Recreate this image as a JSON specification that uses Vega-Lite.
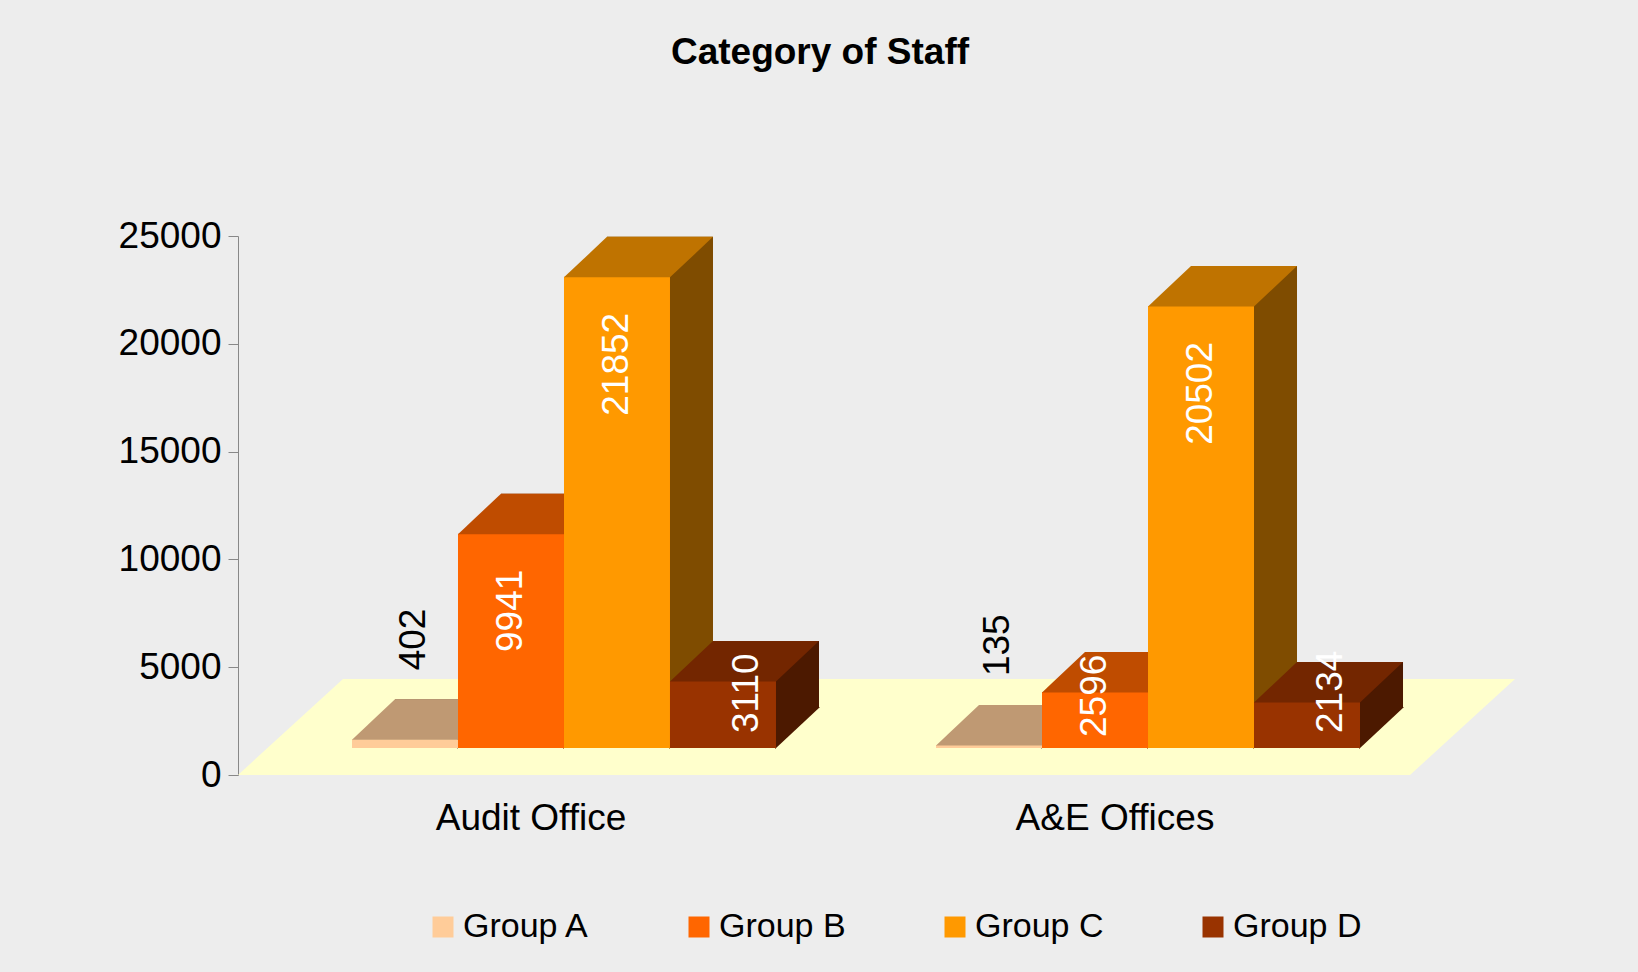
{
  "$schema": "https://vega.github.io/schema/vega-lite/v6.json",
  "autosize": {"type": "none"},
  "width": 1236,
  "height": 539,
  "padding": {"left": 238, "top": 236, "right": 164, "bottom": 197},
  "background": "#EDEDED",
  "config": {
    "font": "Liberation Sans",
    "view": {"stroke": null},
    "axisY": {
      "labelFontSize": 37,
      "labelColor": "black",
      "labelPadding": 7,
      "tickSize": 10,
      "tickColor": "#888888",
      "domainColor": "#888888",
      "grid": false
    },
    "axisX": {
      "labelFontSize": 37,
      "labelColor": "black",
      "labelAngle": 0,
      "labelPadding": 25,
      "labelOffset": -33,
      "labelLimit": 600,
      "ticks": false,
      "tickSize": 0,
      "domain": false,
      "grid": false
    }
  },
  "title": {
    "text": "Category of Staff",
    "fontSize": 37,
    "fontWeight": "bold",
    "color": "black",
    "anchor": "middle",
    "dx": -36,
    "offset": 145
  },
  "data": {
    "values": [
      {"Office": "Audit Office", "Group": "Group A", "Staff": 402},
      {"Office": "Audit Office", "Group": "Group B", "Staff": 9941},
      {"Office": "Audit Office", "Group": "Group C", "Staff": 21852},
      {"Office": "Audit Office", "Group": "Group D", "Staff": 3110},
      {"Office": "A&E Offices", "Group": "Group A", "Staff": 135},
      {"Office": "A&E Offices", "Group": "Group B", "Staff": 2596},
      {"Office": "A&E Offices", "Group": "Group C", "Staff": 20502},
      {"Office": "A&E Offices", "Group": "Group D", "Staff": 2134}
    ]
  },
  "resolve": {"scale": {"xOffset": "independent", "fill": "independent", "shape": "independent"}},
  "layer": [
    {
      "data": {"values": [{"floor": 0}]},
      "mark": {"type": "point", "shape": "M -618 0 L 554 0 L 659 -96 L -513 -96 Z", "size": 4, "filled": true, "fill": "#FFFFCC", "opacity": 1, "strokeWidth": 0},
      "encoding": {
        "y": {"field": "floor", "type": "quantitative", "title": null, "scale": {"domain": [0, 25000], "nice": false}}
      }
    },
    {
      "mark": {"type": "bar", "yOffset": -67},
      "encoding": {
        "x": {"field": "Office", "type": "nominal", "title": null, "sort": null, "scale": {"domain": ["Audit Office", "A&E Offices"], "paddingInner": 0.274, "paddingOuter": 0.1952}},
        "xOffset": {"field": "Group", "type": "nominal", "scale": {"type": "band", "domain": ["Group A", "Group B", "Group C", "Group D"], "range": [43, 467], "paddingInner": 0, "paddingOuter": 0}},
        "y": {"field": "Staff", "type": "quantitative", "title": null, "scale": {"domain": [0, 25000], "nice": false}},
        "fill": {"field": "Group", "type": "nominal", "legend": null, "scale": {"domain": ["Group A", "Group B", "Group C", "Group D"], "range": ["#7F664C", "#7F3300", "#7F4C00", "#4C1900"]}}
      }
    },
    {
      "mark": {"type": "point", "shape": "M 52 1 L 52 -41 L 97 -41 Z", "size": 4, "filled": true, "opacity": 1, "strokeWidth": 0, "yOffset": -27},
      "encoding": {
        "x": {"field": "Office", "type": "nominal", "title": null, "sort": null, "scale": {"domain": ["Audit Office", "A&E Offices"], "paddingInner": 0.274, "paddingOuter": 0.1952}},
        "xOffset": {"field": "Group", "type": "nominal", "scale": {"type": "band", "domain": ["Group A", "Group B", "Group C", "Group D"], "paddingInner": 0, "paddingOuter": 0}},
        "y": {"datum": 0, "type": "quantitative", "title": null, "scale": {"domain": [0, 25000], "nice": false}},
        "fill": {"field": "Group", "type": "nominal", "legend": null, "scale": {"domain": ["Group A", "Group B", "Group C", "Group D"], "range": ["#7F664C", "#7F3300", "#7F4C00", "#4C1900"]}}
      }
    },
    {
      "mark": {"type": "bar", "yOffset": -27},
      "encoding": {
        "x": {"field": "Office", "type": "nominal", "title": null, "sort": null, "scale": {"domain": ["Audit Office", "A&E Offices"], "paddingInner": 0.274, "paddingOuter": 0.1952}},
        "xOffset": {"field": "Group", "type": "nominal", "scale": {"type": "band", "domain": ["Group A", "Group B", "Group C", "Group D"], "paddingInner": 0, "paddingOuter": 0}},
        "y": {
          "field": "Staff",
          "type": "quantitative",
          "title": null,
          "scale": {"domain": [0, 25000], "nice": false},
          "axis": {"values": [0, 5000, 10000, 15000, 20000, 25000], "format": "d"}
        },
        "color": {
          "field": "Group",
          "type": "nominal",
          "scale": {"domain": ["Group A", "Group B", "Group C", "Group D"], "range": ["#FFCC99", "#FF6600", "#FF9900", "#993300"]},
          "legend": {
            "title": null,
            "orient": "none",
            "legendX": 188,
            "legendY": 674,
            "direction": "horizontal",
            "columns": 4,
            "symbolType": "square",
            "symbolSize": 441,
            "symbolStrokeWidth": 0,
            "symbolOpacity": 1,
            "labelFontSize": 34,
            "labelColor": "black",
            "labelOffset": 3,
            "labelLimit": 300,
            "columnPadding": 92,
            "padding": 0
          }
        }
      }
    },
    {
      "mark": {"type": "point", "size": 4, "filled": true, "opacity": 1, "strokeWidth": 0, "yOffset": -27},
      "encoding": {
        "x": {"field": "Office", "type": "nominal", "title": null, "sort": null, "scale": {"domain": ["Audit Office", "A&E Offices"], "paddingInner": 0.274, "paddingOuter": 0.1952}},
        "xOffset": {"field": "Group", "type": "nominal", "scale": {"type": "band", "domain": ["Group A", "Group B", "Group C", "Group D"], "paddingInner": 0, "paddingOuter": 0}},
        "y": {"field": "Staff", "type": "quantitative", "title": null, "scale": {"domain": [0, 25000], "nice": false}},
        "shape": {"field": "Group", "type": "nominal", "legend": null, "scale": {"domain": ["Group A", "Group B", "Group C", "Group D"], "range": ["M -53 0.5 L 53 0.5 L 53 -40 L -10 -40 Z", "M -53 0.5 L 53 0.5 L 53 -40 L -10 -40 Z", "M -53 0.5 L 53 0.5 L 96 -40 L -10 -40 Z", "M -53 0.5 L 53 0.5 L 96 -40 L -10 -40 Z"]}},
        "fill": {"field": "Group", "type": "nominal", "legend": null, "scale": {"domain": ["Group A", "Group B", "Group C", "Group D"], "range": ["#BF9973", "#BF4C00", "#BF7300", "#732600"]}}
      }
    },
    {
      "transform": [{"filter": "datum.Staff >= 5000"}],
      "mark": {"type": "text", "angle": 270, "align": "right", "baseline": "middle", "fontSize": 37, "color": "white", "yOffset": 9},
      "encoding": {
        "x": {"field": "Office", "type": "nominal", "title": null, "sort": null, "scale": {"domain": ["Audit Office", "A&E Offices"], "paddingInner": 0.274, "paddingOuter": 0.1952}},
        "xOffset": {"field": "Group", "type": "nominal", "scale": {"type": "band", "domain": ["Group A", "Group B", "Group C", "Group D"], "paddingInner": 0, "paddingOuter": 0}},
        "y": {"field": "Staff", "type": "quantitative", "title": null, "scale": {"domain": [0, 25000], "nice": false}},
        "text": {"field": "Staff", "type": "quantitative", "format": "d"}
      }
    },
    {
      "transform": [{"filter": "datum.Staff < 5000 && datum.Group == 'Group B'"}],
      "mark": {"type": "text", "angle": 270, "align": "left", "baseline": "middle", "fontSize": 37, "color": "white", "yOffset": -38},
      "encoding": {
        "x": {"field": "Office", "type": "nominal", "title": null, "sort": null, "scale": {"domain": ["Audit Office", "A&E Offices"], "paddingInner": 0.274, "paddingOuter": 0.1952}},
        "xOffset": {"field": "Group", "type": "nominal", "scale": {"type": "band", "domain": ["Group A", "Group B", "Group C", "Group D"], "paddingInner": 0, "paddingOuter": 0}},
        "y": {"datum": 0, "type": "quantitative", "title": null, "scale": {"domain": [0, 25000], "nice": false}},
        "text": {"field": "Staff", "type": "quantitative", "format": "d"}
      }
    },
    {
      "transform": [{"filter": "datum.Group == 'Group D'"}],
      "mark": {"type": "text", "angle": 270, "align": "left", "baseline": "middle", "fontSize": 37, "color": "white", "yOffset": -42, "dy": 24},
      "encoding": {
        "x": {"field": "Office", "type": "nominal", "title": null, "sort": null, "scale": {"domain": ["Audit Office", "A&E Offices"], "paddingInner": 0.274, "paddingOuter": 0.1952}},
        "xOffset": {"field": "Group", "type": "nominal", "scale": {"type": "band", "domain": ["Group A", "Group B", "Group C", "Group D"], "paddingInner": 0, "paddingOuter": 0}},
        "y": {"datum": 0, "type": "quantitative", "title": null, "scale": {"domain": [0, 25000], "nice": false}},
        "text": {"field": "Staff", "type": "quantitative", "format": "d"}
      }
    },
    {
      "transform": [{"filter": "datum.Group == 'Group A'"}],
      "mark": {"type": "text", "angle": 270, "align": "left", "baseline": "middle", "fontSize": 37, "color": "black", "yOffset": -96, "dy": 9},
      "encoding": {
        "x": {"field": "Office", "type": "nominal", "title": null, "sort": null, "scale": {"domain": ["Audit Office", "A&E Offices"], "paddingInner": 0.274, "paddingOuter": 0.1952}},
        "xOffset": {"field": "Group", "type": "nominal", "scale": {"type": "band", "domain": ["Group A", "Group B", "Group C", "Group D"], "paddingInner": 0, "paddingOuter": 0}},
        "y": {"field": "Staff", "type": "quantitative", "title": null, "scale": {"domain": [0, 25000], "nice": false}},
        "text": {"field": "Staff", "type": "quantitative", "format": "d"}
      }
    }
  ]
}
